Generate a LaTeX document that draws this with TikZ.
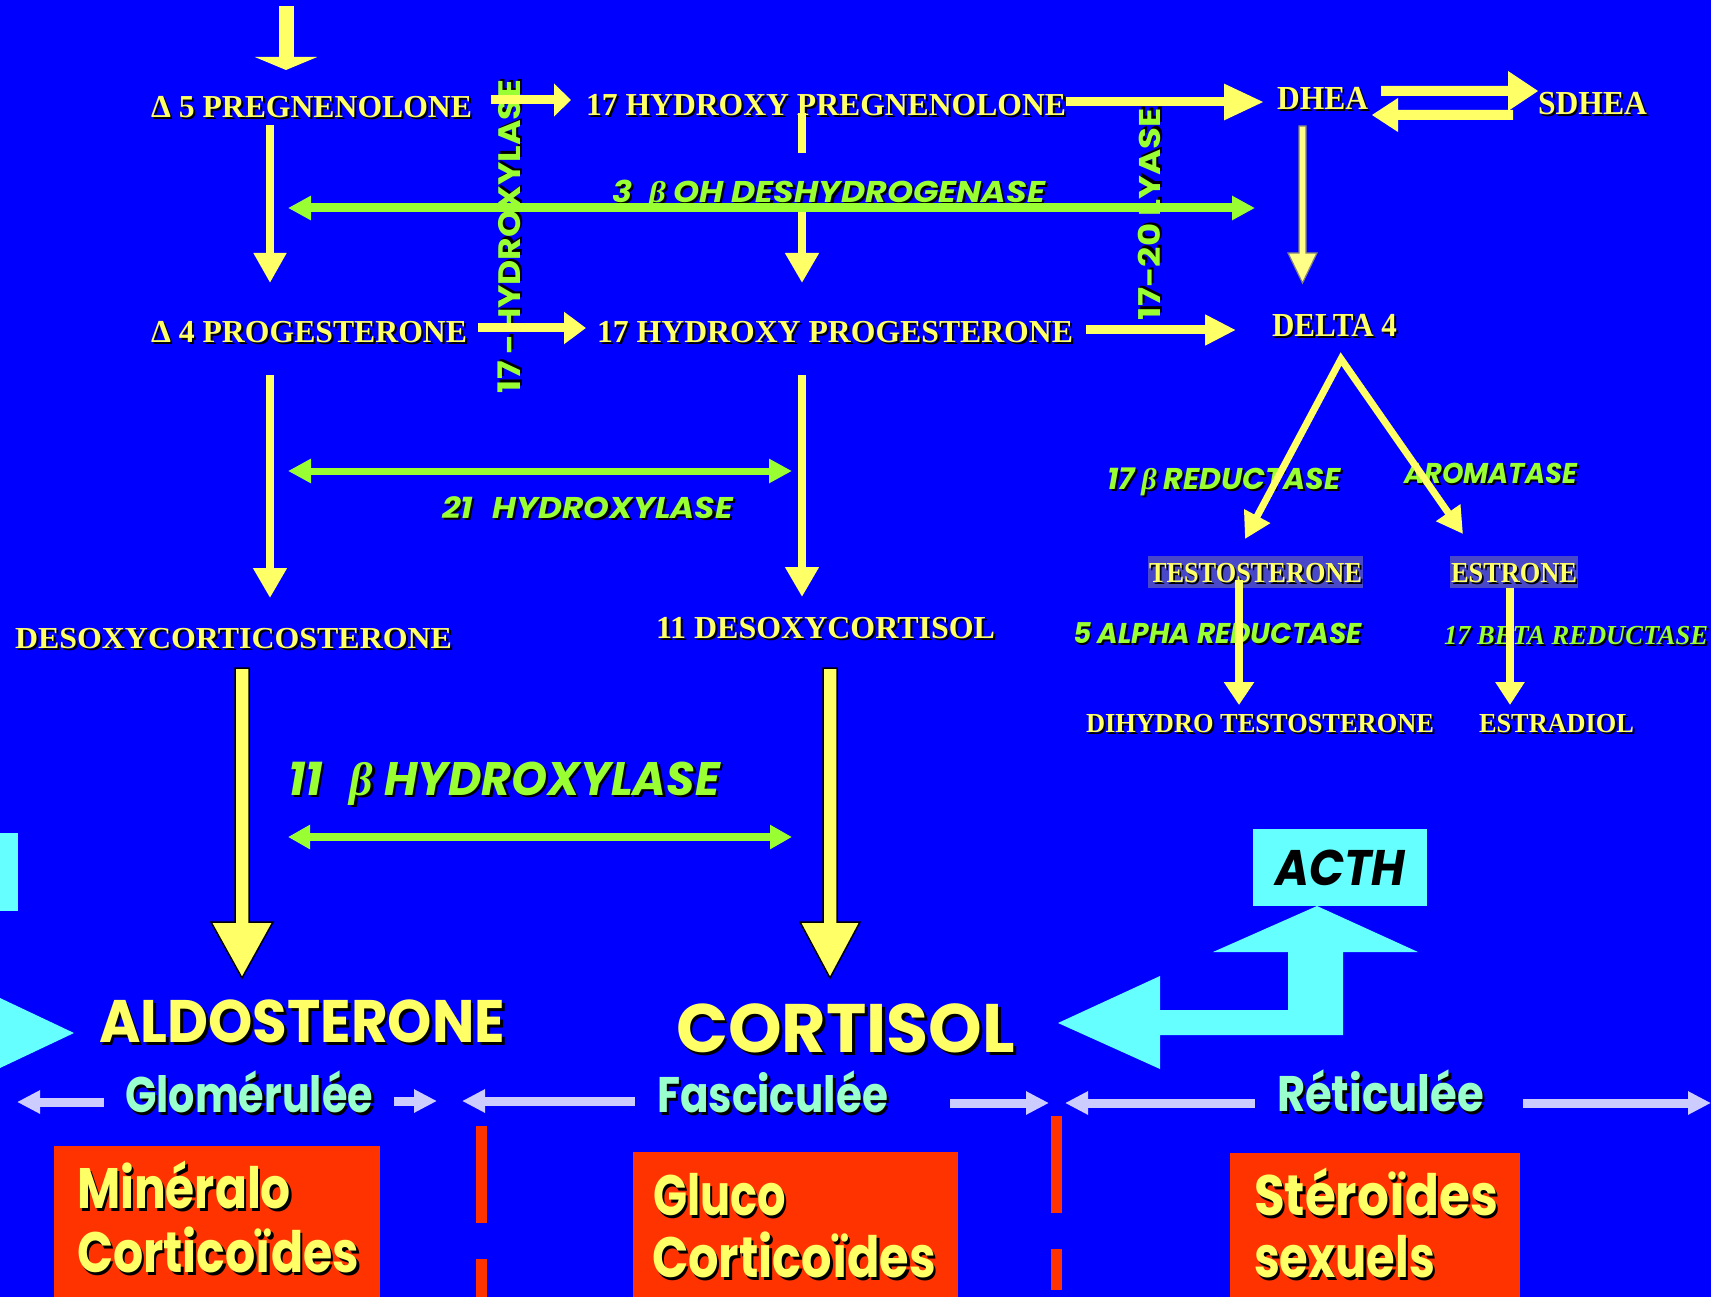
\documentclass[tikz,border=0pt]{standalone}
\usepackage{fontspec}
\setmainfont{Liberation Serif}
\newfontfamily\comic{Poppins}
\usetikzlibrary{arrows.meta}

\definecolor{bg}{HTML}{0000FF}
\definecolor{ylw}{HTML}{FFFF66}
\definecolor{paleylw}{HTML}{FFFF88}
\definecolor{grn}{HTML}{99FF33}
\definecolor{lav}{HTML}{CCCCFF}
\definecolor{mint}{HTML}{99FFCC}
\definecolor{cyn}{HTML}{66FFFF}
\definecolor{rd}{HTML}{FF3300}
\definecolor{slate}{HTML}{4848C8}

% text with a dark drop shadow
\newcommand\txtshadow[2][2pt]{\makebox[0pt][l]{\kern#1\raisebox{-#1}[0pt][0pt]{\color{black}#2}}#2}
% text of a given size, stretched to a given width
\newcommand\fitbox[4][2pt]{\resizebox{#2pt}{\height}{\fontsize{#3pt}{#3pt}\selectfont\txtshadow[#1]{#4}}}
\newcommand\fitplain[3]{\resizebox{#1pt}{\height}{\fontsize{#2pt}{#2pt}\selectfont #3}}

\begin{document}
\begin{tikzpicture}[x=1pt, y=-1pt,
  lbl/.style={inner sep=0pt, outer sep=0pt, anchor=base west},
  serifb/.style={lbl, text=ylw, font=\bfseries},
  enz/.style={lbl, text=grn, font=\comic\bfseries\itshape},
  enzup/.style={lbl, text=grn, font=\comic\bfseries},
  big/.style={lbl, text=ylw, font=\comic\bfseries},
  zone/.style={lbl, text=mint, font=\comic\bfseries},
  redbox/.style={fill=rd, inner sep=0pt, anchor=north west},
  yarr/.style={draw=ylw, line width=8pt},
  garr/.style={draw=grn, line width=8pt},
  larr/.style={draw=lav, line width=9pt, -{Triangle[length=23pt,width=22pt]}},
  redline/.style={draw=rd, line width=11pt, dash pattern=on 97pt off 36pt},
  bigarrow/.style={fill=ylw, draw=black, line width=1.5pt, line join=miter}
]
\path[use as bounding box] (0,0) rectangle (1711,1297);
\fill[bg] (0,0) rectangle (1711,1297);
\begin{scope}
\clip (0,0) rectangle (1711,1297);

% ---------- cyan shapes at the left edge
\fill[cyn] (0,833) rectangle (18,911);
\fill[cyn] (0,998) -- (74,1033) -- (0,1068) -- cycle;

% ---------- zone boxes
\node[redbox, minimum width=326pt, minimum height=160pt] (minbox) at (54,1146) {};
\node[redbox, minimum width=325pt, minimum height=160pt] (glubox) at (633,1152) {};
\node[redbox, minimum width=290pt, minimum height=160pt] (sexbox) at (1230,1153) {};

% zone separators
\coordinate (sep1a) at (481,1126); \coordinate (sep1b) at (481,1300);
\coordinate (sep2a) at (1056,1116); \coordinate (sep2b) at (1056,1290);
\draw[redline] (sep1a) -- (sep1b);
\draw[redline] (sep2a) -- (sep2b);

% ---------- metabolites
\node[serifb] (preg5) at (151,118) {\fitbox{321}{32}{Δ 5 PREGNENOLONE}};
\node[serifb] (hpreg) at (586,116) {\fitbox{480}{32}{17 HYDROXY PREGNENOLONE}};
\node[serifb] (dhea) at (1277,110) {\fitbox{91}{33.6}{DHEA}};
\node[serifb] (sdhea) at (1538,115) {\fitbox{109}{33.6}{SDHEA}};
\node[serifb] (prog4) at (151,342) {\fitbox{316}{32}{Δ 4 PROGESTERONE}};
\node[serifb] (hprog) at (597,342) {\fitbox{476}{32}{17 HYDROXY PROGESTERONE}};
\node[serifb] (delta4) at (1272,337) {\fitbox{125}{33.6}{DELTA 4}};
\node[serifb] (doc) at (15,648) {\fitbox{437}{30.5}{DESOXYCORTICOSTERONE}};
\node[serifb] (doc11) at (656,638) {\fitbox{339}{32}{11 DESOXYCORTISOL}};
\node[serifb, fill=slate, inner xsep=1pt, text height=26pt, text depth=6pt] (testo) at (1148,582) {\fitbox{213}{29}{TESTOSTERONE}};
\node[serifb, fill=slate, inner xsep=1pt, text height=26pt, text depth=6pt] (estrone) at (1450,582) {\fitbox{126}{29}{ESTRONE}};
\node[serifb] (dht) at (1086,732) {\fitbox{348}{27.5}{DIHYDRO TESTOSTERONE}};
\node[serifb] (estradiol) at (1479,732) {\fitbox{155}{27.5}{ESTRADIOL}};

% ---------- enzymes
\node[enz] (cyp21) at (442,518) {\fitbox{291}{30}{21\hspace{.6em}HYDROXYLASE}};
\node[enz] (cyp11) at (288,795) {\fitbox[2.5pt]{432}{47}{11\hspace{.6em}{\rmfamily β} HYDROXYLASE}};
\node[enz] (red17) at (1107,489) {\fitbox{234}{30}{17 {\rmfamily β} REDUCTASE}};
\node[enz] (arom) at (1404,483) {\fitbox{173}{28.6}{AROMATASE}};
\node[enz] (red5a) at (1073,643) {\fitbox{289}{28.6}{5 ALPHA REDUCTASE}};
\node[lbl, text=grn, font=\bfseries\itshape] (red17b) at (1444,644) {\fitbox{264}{27.5}{17 BETA REDUCTASE}};
\node[enzup, rotate=90] (cyp17) at (520,393) {\fitbox{313}{31}{17 -HYDROXYLASE}};
\node[enzup, rotate=90] (lyase) at (1160,320) {\fitbox{212}{30}{17-20 LYASE}};

% ---------- products and zones
\node[big] (aldo) at (99,1042) {\fitbox[3pt]{406}{60}{ALDOSTERONE}};
\node[big] (cortisol) at (676,1052) {\fitbox[3pt]{339}{68.6}{CORTISOL}};
\node[zone] (glom) at (125,1112) {\fitbox[3pt]{248}{50}{Glomérulée}};
\node[zone] (fasc) at (657,1112) {\fitbox[3pt]{231}{50}{Fasciculée}};
\node[zone] (retic) at (1277,1111) {\fitbox[3pt]{207}{50}{Réticulée}};
\node[big] (min1) at (77,1208) {\fitbox[3pt]{214}{57}{Minéralo}};
\node[big] (min2) at (77,1272) {\fitbox[3pt]{282}{57}{Corticoïdes}};
\node[big] (glu1) at (653,1215) {\fitbox[3pt]{133}{57}{Gluco}};
\node[big] (glu2) at (652,1277) {\fitbox[3pt]{284}{57}{Corticoïdes}};
\node[big] (sex1) at (1254,1215) {\fitbox[3pt]{244}{57}{Stéroïdes}};
\node[big] (sex2) at (1254,1277) {\fitbox[3pt]{181}{57}{sexuels}};
\node[fill=cyn, minimum width=174pt, minimum height=77pt, inner sep=0pt, anchor=north west,
      font=\comic\bfseries\itshape] (acth) at (1253,829) {\fitplain{130}{50}{ACTH}};

% ---------- connector end points
\coordinate (in0) at (286,6);      \coordinate (in1) at (286,70);
\coordinate (p5r) at (491,100);    \coordinate (hpl) at (571,100);
\coordinate (hpr) at (1066,102);   \coordinate (dhl) at (1264,102);
\coordinate (p5d) at (270,125);    \coordinate (p4u) at (270,283);
\coordinate (hpd) at (802,113);    \coordinate (hgu) at (802,283);
\coordinate (p4r) at (478,328);    \coordinate (hgl) at (586,328);
\coordinate (hgr) at (1086,330);   \coordinate (d4l) at (1236,330);
\coordinate (p4d) at (270,375);    \coordinate (docu) at (270,598);
\coordinate (hgd) at (802,375);    \coordinate (d11u) at (802,597);
\coordinate (apex) at (1341,359);
\coordinate (tsu) at (1245,539);   \coordinate (esu) at (1463,534);
\coordinate (tsd) at (1239,580);   \coordinate (dhtu) at (1239,705);
\coordinate (esd) at (1510,588);   \coordinate (e2u) at (1510,705);

% ---------- yellow reaction arrows
\draw[ylw, line width=15pt, -{Triangle[length=13pt,width=62pt]}] (in0) -- (in1);
\draw[yarr, line width=9pt, -{Triangle[length=17pt,width=32pt]}] (p5r) -- (hpl);
\draw[yarr, line width=9pt, -{Triangle[length=40pt,width=34pt]}] (hpr) -- (dhl);
\draw[yarr, -{Triangle[length=30pt,width=31pt]}] (p5d) -- (p4u);
\draw[yarr, -{Triangle[length=30pt,width=32pt]}] (hpd) -- (hgu);
\draw[yarr, line width=9pt, -{Triangle[length=22pt,width=31pt]}] (p4r) -- (hgl);
\draw[yarr, line width=9pt, -{Triangle[length=31pt,width=29pt]}] (hgr) -- (d4l);
\draw[yarr, -{Triangle[length=30pt,width=32pt]}] (p4d) -- (docu);
\draw[yarr, -{Triangle[length=30pt,width=32pt]}] (hgd) -- (d11u);
\draw[yarr, line width=7pt, line join=miter,
      {Triangle[length=26pt,width=28pt]}-{Triangle[length=26pt,width=28pt]}] (tsu) -- (apex) -- (esu);
\draw[yarr, -{Triangle[length=23pt,width=29pt]}] (tsd) -- (dhtu);
\draw[yarr, -{Triangle[length=23pt,width=28pt]}] (esd) -- (e2u);

% DHEA <-> SDHEA
\fill[ylw] (1381,86) -- (1508,86) -- (1508,71) -- (1538,91) -- (1508,111) -- (1508,96) -- (1381,96) -- cycle;
\fill[ylw] (1372,115) -- (1398,98) -- (1398,110) -- (1513,110) -- (1513,120) -- (1398,120) -- (1398,132) -- cycle;

% DHEA -> DELTA 4
\filldraw[fill=paleylw, draw=gray, line width=1.2pt, line join=miter]
  (1299,126) -- (1306,126) -- (1306,253) -- (1317,253) -- (1302.5,283) -- (1288,253) -- (1299,253) -- cycle;

% towards ALDOSTERONE and CORTISOL
\filldraw[bigarrow] (235,668) -- (249,668) -- (249,922) -- (273,922) -- (242,978) -- (211,922) -- (235,922) -- cycle;
\filldraw[bigarrow] (823,668) -- (837,668) -- (837,922) -- (860,922) -- (830,978) -- (800,922) -- (823,922) -- cycle;

% 3 beta label sits on a background patch that cuts the vertical arrow
\node[enz, fill=bg, text height=50pt, text depth=4pt] (hsd) at (612,203) {\fitbox{433}{30}{3\hspace{.5em}{\rmfamily β} OH DESHYDROGENASE}};

% ---------- green enzyme arrows
\coordinate (g1l) at (288,208);  \coordinate (g1r) at (1255,208);
\coordinate (g2l) at (288,471);  \coordinate (g2r) at (792,471);
\coordinate (g3l) at (288,837);  \coordinate (g3r) at (792,837);
\draw[garr, line width=9pt, {Triangle[length=23pt,width=23pt]}-{Triangle[length=23pt,width=23pt]}] (g1l) -- (g1r);
\draw[garr, line width=7pt, {Triangle[length=23pt,width=23pt]}-{Triangle[length=23pt,width=23pt]}] (g2l) -- (g2r);
\draw[garr, {Triangle[length=22pt,width=23pt]}-{Triangle[length=22pt,width=23pt]}] (g3l) -- (g3r);

% ---------- zone extent arrows
\coordinate (z1a) at (104,1102);  \coordinate (z1b) at (17,1102);
\coordinate (z2a) at (394,1101);  \coordinate (z2b) at (437,1101);
\coordinate (z3a) at (635,1101);  \coordinate (z3b) at (462,1101);
\coordinate (z4a) at (950,1103);  \coordinate (z4b) at (1049,1103);
\coordinate (z5a) at (1255,1103); \coordinate (z5b) at (1065,1103);
\coordinate (z6a) at (1523,1103); \coordinate (z6b) at (1711,1103);
\draw[larr] (z1a) -- (z1b);
\draw[larr] (z2a) -- (z2b);
\draw[larr] (z3a) -- (z3b);
\draw[larr] (z4a) -- (z4b);
\draw[larr] (z5a) -- (z5b);
\draw[larr] (z6a) -- (z6b);

% ---------- ACTH feedback arrow
\fill[cyn] (1058,1023) -- (1160,976) -- (1160,1010) -- (1288,1010) -- (1288,952) -- (1213,952)
  -- (1317,906) -- (1418,952) -- (1343,952) -- (1343,1035) -- (1160,1035) -- (1160,1069) -- cycle;

\end{scope}
\end{tikzpicture}
\end{document}
